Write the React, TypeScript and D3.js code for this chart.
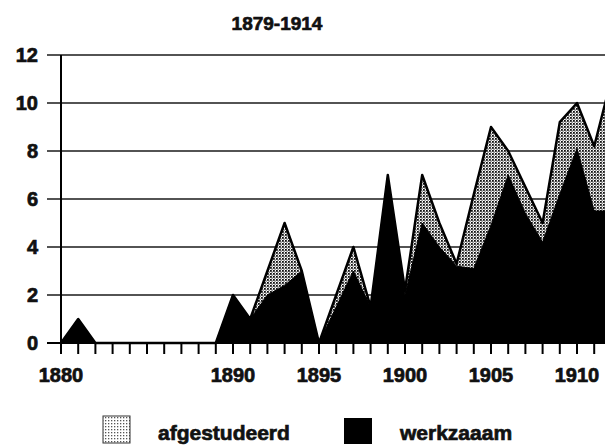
import * as d3 from "d3";

const W = 605;
const H = 447;

// one category per year, starting at the y axis
const years = [
  1880, 1881, 1882, 1883, 1884, 1885, 1886, 1887, 1888, 1889, 1890, 1891,
  1892, 1893, 1894, 1895, 1896, 1897, 1898, 1899, 1900, 1901, 1902, 1903,
  1904, 1905, 1906, 1907, 1908, 1909, 1910, 1911, 1912,
];
const afgestudeerd = [
  0, 1, 0, 0, 0, 0, 0, 0, 0, 0, 2, 1, 3, 5, 3, 0, 2, 4, 1.5, 7, 2.2, 7, 5,
  3.3, 6.2, 9, 8, 6.5, 5, 9.2, 10, 8.2, 11,
];
const werkzaam = [
  0, 1, 0, 0, 0, 0, 0, 0, 0, 0, 2, 1, 2, 2.4, 3, 0, 1.5, 3, 1.5, 7, 2, 5, 4,
  3.2, 3.1, 4.9, 7, 5.4, 4.2, 6.2, 8.1, 5.5, 5.5,
];
const xLabels = [1880, 1890, 1895, 1900, 1905, 1910];
const yTicks = [0, 2, 4, 6, 8, 10, 12];
const title = "1879-1914";
const legend = ["afgestudeerd", "werkzaaam"];

const FONT = "'Liberation Sans', Arial, sans-serif";
const X0 = 61;
const STEP = 17.2;
const Y0 = 343;
const Y12 = 55;

// heavy, slightly blotted print look
const ink = { fill: "#111", stroke: "#111", strokeWidth: 0.7 };

export default function App() {
  const x = d3
    .scaleLinear()
    .domain([years[0], years[years.length - 1]])
    .range([X0, X0 + STEP * (years.length - 1)]);
  const y = d3.scaleLinear().domain([0, 12]).range([Y0, Y12]);

  const area = d3
    .area<number>()
    .x((_, i) => x(years[i]))
    .y0(y(0))
    .y1((d) => y(d));
  const line = d3
    .line<number>()
    .x((_, i) => x(years[i]))
    .y((d) => y(d));

  return (
    <svg
      width={W}
      height={H}
      style={{ position: "absolute", left: 0, top: 0, background: "#fff" }}
    >
      <defs>
        <pattern id="dots" width={3} height={3} patternUnits="userSpaceOnUse">
          <rect width={3} height={3} fill="#fff" />
          <rect x={0} y={0} width={1.8} height={1.8} fill="#111" />
          <rect x={1.5} y={1.5} width={1.2} height={1.2} fill="#333" />
        </pattern>
        <pattern id="dotsLight" width={3} height={3} patternUnits="userSpaceOnUse">
          <rect width={3} height={3} fill="#fff" />
          <rect x={0} y={0} width={1.3} height={1.3} fill="#555" />
        </pattern>
      </defs>

      <text
        x={277}
        y={30}
        textAnchor="middle"
        fontFamily={FONT}
        fontWeight="bold"
        fontSize={19}
        {...ink}
      >
        {title}
      </text>

      {/* gridlines + y labels */}
      {yTicks.map((t) => (
        <g key={t}>
          <line
            x1={47}
            x2={W}
            y1={y(t)}
            y2={y(t)}
            stroke="#1a1a1a"
            strokeWidth={1.6}
          />
          <text
            x={38}
            y={y(t)}
            dy="0.36em"
            textAnchor="end"
            fontFamily={FONT}
            fontWeight="bold"
            fontSize={20}
            {...ink}
          >
            {t}
          </text>
        </g>
      ))}

      {/* areas */}
      <path d={area(afgestudeerd) ?? ""} fill="url(#dots)" />
      <path
        d={line(afgestudeerd) ?? ""}
        fill="none"
        stroke="#000"
        strokeWidth={2.5}
        strokeLinejoin="round"
      />
      <path d={area(werkzaam) ?? ""} fill="#000" stroke="#000" strokeWidth={1} />

      {/* axes */}
      <line x1={X0} x2={X0} y1={Y12} y2={Y0 + 11} stroke="#000" strokeWidth={2} />
      <line x1={47} x2={W} y1={Y0} y2={Y0} stroke="#000" strokeWidth={2} />
      {years.map((yr) => (
        <line
          key={yr}
          x1={x(yr)}
          x2={x(yr)}
          y1={Y0}
          y2={Y0 + 11}
          stroke="#000"
          strokeWidth={2}
        />
      ))}
      {xLabels.map((yr) => (
        <text
          key={yr}
          x={x(yr)}
          y={382}
          textAnchor="middle"
          fontFamily={FONT}
          fontWeight="bold"
          fontSize={20}
          {...ink}
        >
          {yr}
        </text>
      ))}

      {/* legend */}
      <rect
        x={103}
        y={416}
        width={27}
        height={27}
        fill="url(#dotsLight)"
        stroke="#333"
        strokeWidth={1}
      />
      <text
        x={158}
        y={440}
        fontFamily={FONT}
        fontWeight="bold"
        fontSize={21}
        {...ink}
      >
        {legend[0]}
      </text>
      <rect x={344} y={418} width={28} height={26} fill="#000" />
      <text
        x={400}
        y={440}
        fontFamily={FONT}
        fontWeight="bold"
        fontSize={21}
        {...ink}
      >
        {legend[1]}
      </text>
    </svg>
  );
}
